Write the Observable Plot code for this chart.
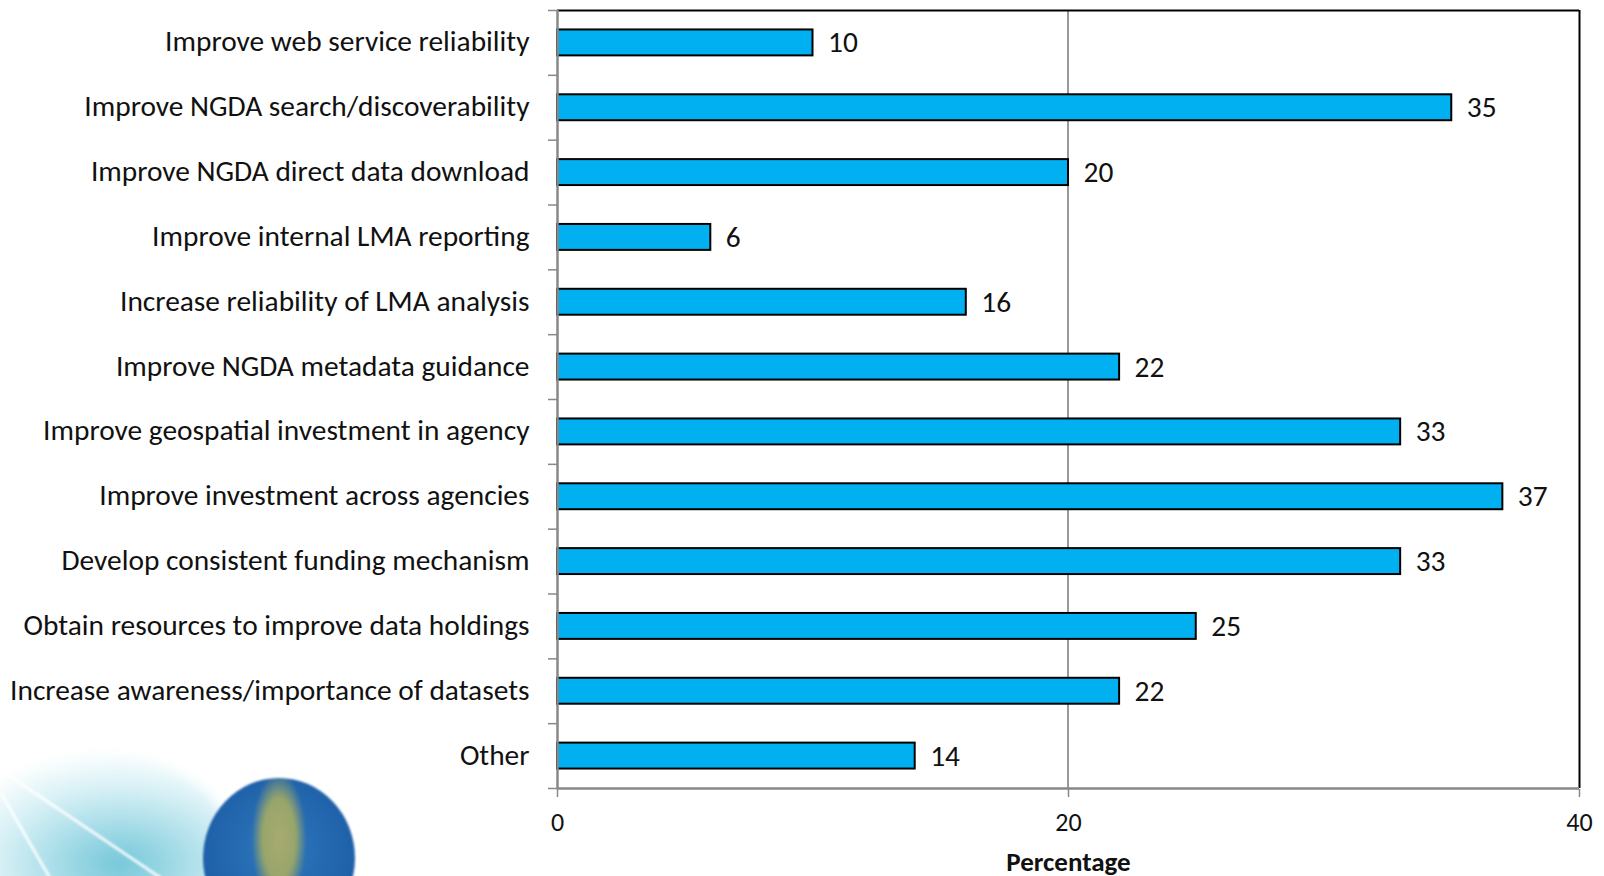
<!DOCTYPE html>
<html>
<head>
<meta charset="utf-8">
<script src="https://cdn.jsdelivr.net/npm/d3@7"></script>
<script src="https://cdn.jsdelivr.net/npm/@observablehq/plot@0.6"></script>
<style>
html,body{margin:0;padding:0;background:#fff;overflow:hidden}
#wrap{position:relative;width:1604px;height:876px;overflow:hidden}
#wrap svg{position:absolute;left:0;top:0;background:transparent;z-index:1}
.swoosh{position:absolute;left:-60px;top:752px;width:290px;height:180px;border-radius:50%;
 background:radial-gradient(ellipse at 62% 62%,rgba(70,180,205,.75),rgba(175,226,236,.5) 48%,rgba(255,255,255,0) 72%);filter:blur(6px)}
.streak{position:absolute;height:3px;background:rgba(255,255,255,.85);border-radius:2px;filter:blur(1px)}
.s1{left:0;top:790px;width:110px;transform:rotate(60deg);transform-origin:0 50%}
.s2{left:0;top:768px;width:230px;transform:rotate(34deg);transform-origin:0 50%}
.globe{position:absolute;left:203px;top:778px;width:152px;height:160px;border-radius:50%;
 background:radial-gradient(ellipse 18% 42% at 50% 38%,#a8ab72 0,#98a56a 60%,rgba(45,110,180,0) 100%),radial-gradient(circle at 50% 45%,#2f78bd,#1d5fa8 70%,#1a4f8f);filter:blur(1px)}
</style>
</head>
<body>
<div id="wrap"><div class="swoosh"></div><div class="streak s1"></div><div class="streak s2"></div><div class="globe"></div></div>
<script>
const categories = [
  "Improve web service reliability",
  "Improve NGDA search/discoverability",
  "Improve NGDA direct data download",
  "Improve internal LMA reporting",
  "Increase reliability of LMA analysis",
  "Improve NGDA metadata guidance",
  "Improve geospatial investment in agency",
  "Improve investment across agencies",
  "Develop consistent funding mechanism",
  "Obtain resources to improve data holdings",
  "Increase awareness/importance of datasets",
  "Other"
];
const values = [10, 35, 20, 6, 16, 22, 33, 37, 33, 25, 22, 14];
const xTicks = [0, 20, 40];
const rows = categories.map((category, i) => ({category, value: values[i], slot: i}));
const boundaries = d3.range(categories.length + 1);
const centers = rows.map(d => d.slot + 0.5);

const font = "Carlito, Lato, 'Open Sans', sans-serif";
const chart = Plot.plot({
  width: 1604,
  height: 876,
  marginLeft: 557,
  marginRight: 25,
  marginTop: 10,
  marginBottom: 88,
  style: {fontFamily: font, fontSize: "26px", color: "#111", background: "transparent"},
  x: {domain: [0, 40]},
  y: {domain: [12, 0]},
  marks: [
    Plot.ruleX([20], {stroke: "#777", strokeWidth: 1.5, dx: -0.5}),
    Plot.ruleY([0], {stroke: "#000", strokeWidth: 2}),
    Plot.ruleX([40], {stroke: "#000", strokeWidth: 2}),
    Plot.ruleY([12], {stroke: "#888", strokeWidth: 2.5}),
    Plot.axisY({ticks: boundaries, tickSize: 9, tickFormat: () => "", stroke: "#888", strokeWidth: 1.5}),
    Plot.axisY({ticks: centers, tickSize: 0, tickPadding: 28, dy: -1, fontSize: 29.4, fill: "#111",
      tickFormat: v => categories[Math.floor(v)]}),
    Plot.axisX({ticks: xTicks, tickSize: 8, tickPadding: 15, dy: 1, fontSize: 26, stroke: "#888", strokeWidth: 1.5,
      fill: "#111", label: null}),
    Plot.rectX(rows, {x1: 0, x2: "value", y1: d => d.slot + 0.3, y2: d => d.slot + 0.7,
      fill: "#00b0f0", stroke: "#000", strokeWidth: 2}),
    Plot.ruleX([0], {stroke: "#888", strokeWidth: 2.5}),
    Plot.text(rows, {x: "value", y: d => d.slot + 0.5, text: d => String(d.value), textAnchor: "start",
      dx: 15, dy: 0, fontSize: 29.4, fill: "#111"}),
    Plot.text(["Percentage"], {frameAnchor: "bottom", x: 20, dy: 82, fontWeight: "bold", fontSize: 27, fill: "#111"})
  ]
});
document.getElementById("wrap").appendChild(chart);
</script>
</body>
</html>
